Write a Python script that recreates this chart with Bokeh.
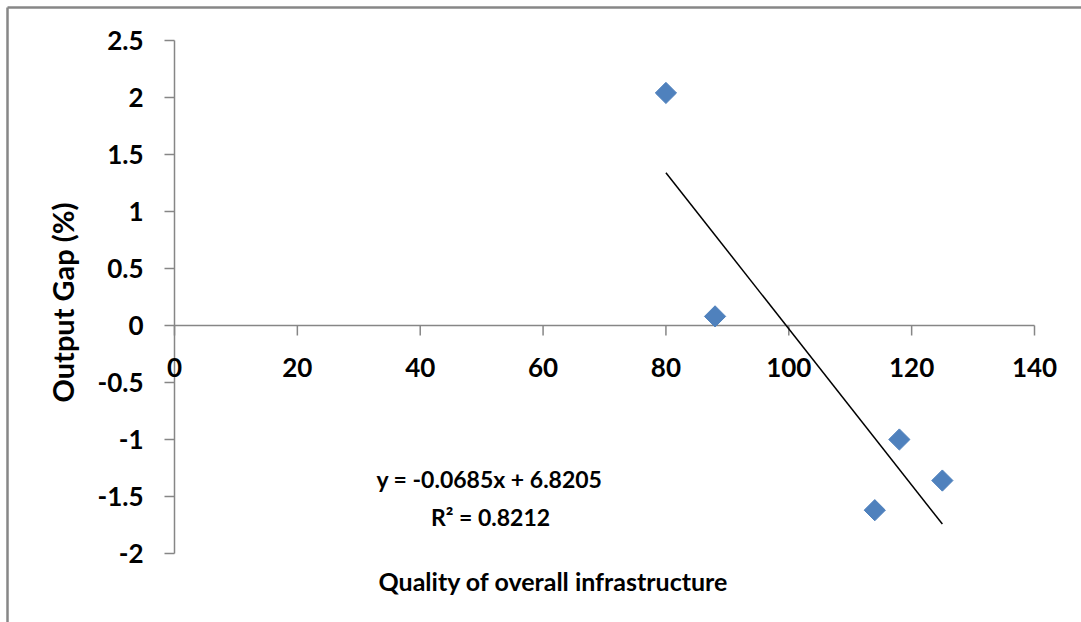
import numpy as np
from bokeh.plotting import figure
from bokeh.models import Range1d
from bokeh.core.properties import value
from bokeh.embed import file_html
from bokeh.resources import INLINE

# ---- data ----
x_vals = [80, 88, 114, 118, 125]
y_vals = [2.04, 0.08, -1.62, -1.00, -1.36]
x_ticks = [0, 20, 40, 60, 80, 100, 120, 140]
x_tick_labels = ["0", "20", "40", "60", "80", "100", "120", "140"]
y_ticks = [-2, -1.5, -1, -0.5, 0, 0.5, 1, 1.5, 2, 2.5]
y_tick_labels = ["-2", "-1.5", "-1", "-0.5", "0", "0.5", "1", "1.5", "2", "2.5"]
slope = -0.0685
intercept = 6.8205
r_squared = 0.8212
x_title = "Quality of overall infrastructure"
y_title = "Output Gap (%)"

# ---- layout (pixels) ----
W, H = 1081, 622
PA_L, PA_R, PA_T, PA_B = 174, 1034, 40, 553   # plot area in canvas pixels
XMIN, XMAX = x_ticks[0], x_ticks[-1]
YMIN, YMAX = y_ticks[0], y_ticks[-1]
xpp = (XMAX - XMIN) / (PA_R - PA_L)
ypp = (YMAX - YMIN) / (PA_B - PA_T)


def px2x(px):
    return XMIN + (px - PA_L) * xpp


def px2y(py):
    return YMAX - (py - PA_T) * ypp


FONT = value("Lato")
AXIS_COLOR = "#868686"
MARKER_COLOR = "#4F81BD"

p = figure(width=W, height=H,
           x_range=Range1d(px2x(0), px2x(W)), y_range=Range1d(px2y(H), px2y(0)),
           output_backend="svg", toolbar_location=None,
           x_axis_location=None, y_axis_location=None,
           min_border=0)
p.outline_line_color = None
p.grid.visible = False
p.background_fill_color = "white"
p.border_fill_color = "white"

# chart-area border (left and top visible)
p.segment(x0=[px2x(7), px2x(7)], y0=[px2y(7), px2y(7)],
          x1=[px2x(7), px2x(W + 20)], y1=[px2y(H + 20), px2y(7)],
          line_color="#878787", line_width=2.5)

# y axis at x = 0
tick_x = 10 * xpp
p.segment(x0=[XMIN], y0=[YMIN], x1=[XMIN], y1=[YMAX], line_color=AXIS_COLOR, line_width=1.5)
p.segment(x0=[XMIN - tick_x] * len(y_ticks), y0=y_ticks, x1=[XMIN] * len(y_ticks), y1=y_ticks,
          line_color=AXIS_COLOR, line_width=1.5)
p.text(x=[px2x(143)] * len(y_ticks), y=y_ticks, text=y_tick_labels,
       text_align="right", text_baseline="middle", text_font=FONT,
       text_font_style="bold", text_font_size="26px", text_color="black")

# x axis at y = 0
tick_y = 10 * ypp
p.segment(x0=[XMIN], y0=[0], x1=[XMAX], y1=[0], line_color=AXIS_COLOR, line_width=1.5)
p.segment(x0=x_ticks, y0=[0] * len(x_ticks), x1=x_ticks, y1=[-tick_y] * len(x_ticks),
          line_color=AXIS_COLOR, line_width=1.5)
p.text(x=x_ticks, y=[-42 * ypp] * len(x_ticks), text=x_tick_labels,
       text_align="center", text_baseline="middle", text_font=FONT,
       text_font_style="bold", text_font_size="26px", text_color="black")

# axis titles
p.text(x=[px2x(62)], y=[px2y(302)], text=[y_title], angle=np.pi / 2,
       text_align="center", text_baseline="middle", text_font=FONT,
       text_font_style="bold", text_font_size="29px", text_color="black")
p.text(x=[px2x(553)], y=[px2y(580)], text=[x_title],
       text_align="center", text_baseline="middle", text_font=FONT,
       text_font_style="bold", text_font_size="25px", text_color="black")

# trend line
tx = np.array([min(x_vals), max(x_vals)], dtype=float)
p.line(tx, slope * tx + intercept, line_color="black", line_width=1.5)

# points
p.scatter(x_vals, y_vals, marker="square", size=15, angle=np.pi / 4,
          fill_color=MARKER_COLOR, line_color=MARKER_COLOR)

# equation labels
eq_text = f"y = {slope}x + {intercept}"
r2_text = f"R\u00b2 = {r_squared}"
p.text(x=[px2x(489), px2x(490)], y=[px2y(478), px2y(516)], text=[eq_text, r2_text],
       text_align="center", text_baseline="middle", text_font=FONT,
       text_font_style="bold", text_font_size="23px", text_color="black")

open("out.html", "w").write(file_html(p, INLINE))
